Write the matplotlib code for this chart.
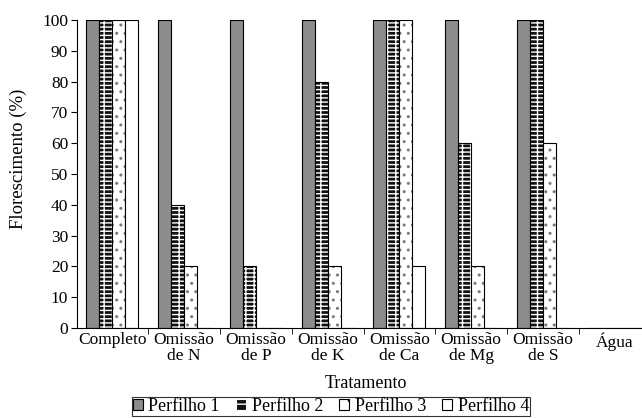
import numpy as np
import matplotlib
matplotlib.use("Agg")
import matplotlib.pyplot as plt
from matplotlib.patches import Patch

plt.rcParams['font.family'] = ['Liberation Serif', 'DejaVu Serif']
plt.rcParams['hatch.linewidth'] = 1.0

# dados
tratamentos = ['Completo', 'Omissão\nde N', 'Omissão\nde P', 'Omissão\nde K',
               'Omissão\nde Ca', 'Omissão\nde Mg', 'Omissão\nde S', 'Água']
perfilho1 = [100, 100, 100, 100, 100, 100, 100, 0]
perfilho2 = [100, 40, 20, 80, 100, 60, 100, 0]
perfilho3 = [100, 20, 0, 20, 100, 20, 60, 0]
perfilho4 = [100, 0, 0, 0, 20, 0, 0, 0]
series = ['Perfilho 1', 'Perfilho 2', 'Perfilho 3', 'Perfilho 4']

fig = plt.figure(figsize=(6.42, 4.18), dpi=100)
W, H = 642, 418
ax = fig.add_axes([76.5 / W, 1 - 328 / H, 574 / W, (328 - 20) / H])

x = np.arange(len(tratamentos))
w = 0.181
offs = [-1.5 * w, -0.5 * w, 0.5 * w, 1.5 * w]

# Perfilho 1: cinza
ax.bar(x + offs[0], perfilho1, w, color='#8c8c8c', edgecolor='black', linewidth=0.8)
# Perfilho 2: tijolo (fundo preto com hachura branca)
ax.bar(x + offs[1], perfilho2, w, color='#111111', edgecolor='white',
       hatch='----||', linewidth=0)
ax.bar(x + offs[1], perfilho2, w, fill=False, edgecolor='black', linewidth=0.8)
# Perfilho 3: pontilhado
ax.bar(x + offs[2], perfilho3, w, color='white', edgecolor='#7a7a7a',
       hatch='..', linewidth=0)
ax.bar(x + offs[2], perfilho3, w, fill=False, edgecolor='black', linewidth=0.8)
# Perfilho 4: branco
ax.bar(x + offs[3], perfilho4, w, color='white', edgecolor='black', linewidth=0.8)

ax.set_xlim(-0.5, len(tratamentos) - 0.5)
ax.set_ylim(0, 100)
ax.set_yticks(np.arange(0, 101, 10))
ax.set_xticks(x)
ax.set_xticklabels(tratamentos, fontsize=12.5, linespacing=0.95)
ax.set_xticks(np.arange(0.5, len(tratamentos) - 0.5, 1), minor=True)
ax.tick_params(axis='x', which='major', length=0, pad=3)
ax.tick_params(axis='x', which='minor', length=4, direction='out')
ax.tick_params(axis='y', labelsize=12.5, length=4, direction='out', pad=2)

for s in ['top', 'right']:
    ax.spines[s].set_visible(False)
ax.spines['left'].set_linewidth(0.8)
ax.spines['bottom'].set_linewidth(0.8)

fig.text(18 / W, 1 - 159 / H, 'Florescimento (%)', fontsize=13.5, rotation=90,
         ha='center', va='center')
fig.text(366 / W, 1 - 383 / H, 'Tratamento', fontsize=13, ha='center', va='center')

handles = [
    Patch(facecolor='#8c8c8c', edgecolor='black', linewidth=0.8),
    Patch(facecolor='#111111', edgecolor='white', hatch='--', linewidth=0.8),
    Patch(facecolor='white', edgecolor='black', hatch='.', linewidth=0.8),
    Patch(facecolor='white', edgecolor='black', linewidth=0.8),
]
leg = fig.legend(handles, series, loc='upper center', bbox_to_anchor=(331 / W, 1 - 397 / H),
                 ncol=4, fontsize=13, frameon=True, fancybox=False,
                 handlelength=0.55, handleheight=0.55, handletextpad=0.3,
                 columnspacing=0.9, borderpad=0.05, borderaxespad=0)
leg.get_frame().set_edgecolor('black')
leg.get_frame().set_linewidth(0.8)

fig.savefig('out.png', dpi=100)
